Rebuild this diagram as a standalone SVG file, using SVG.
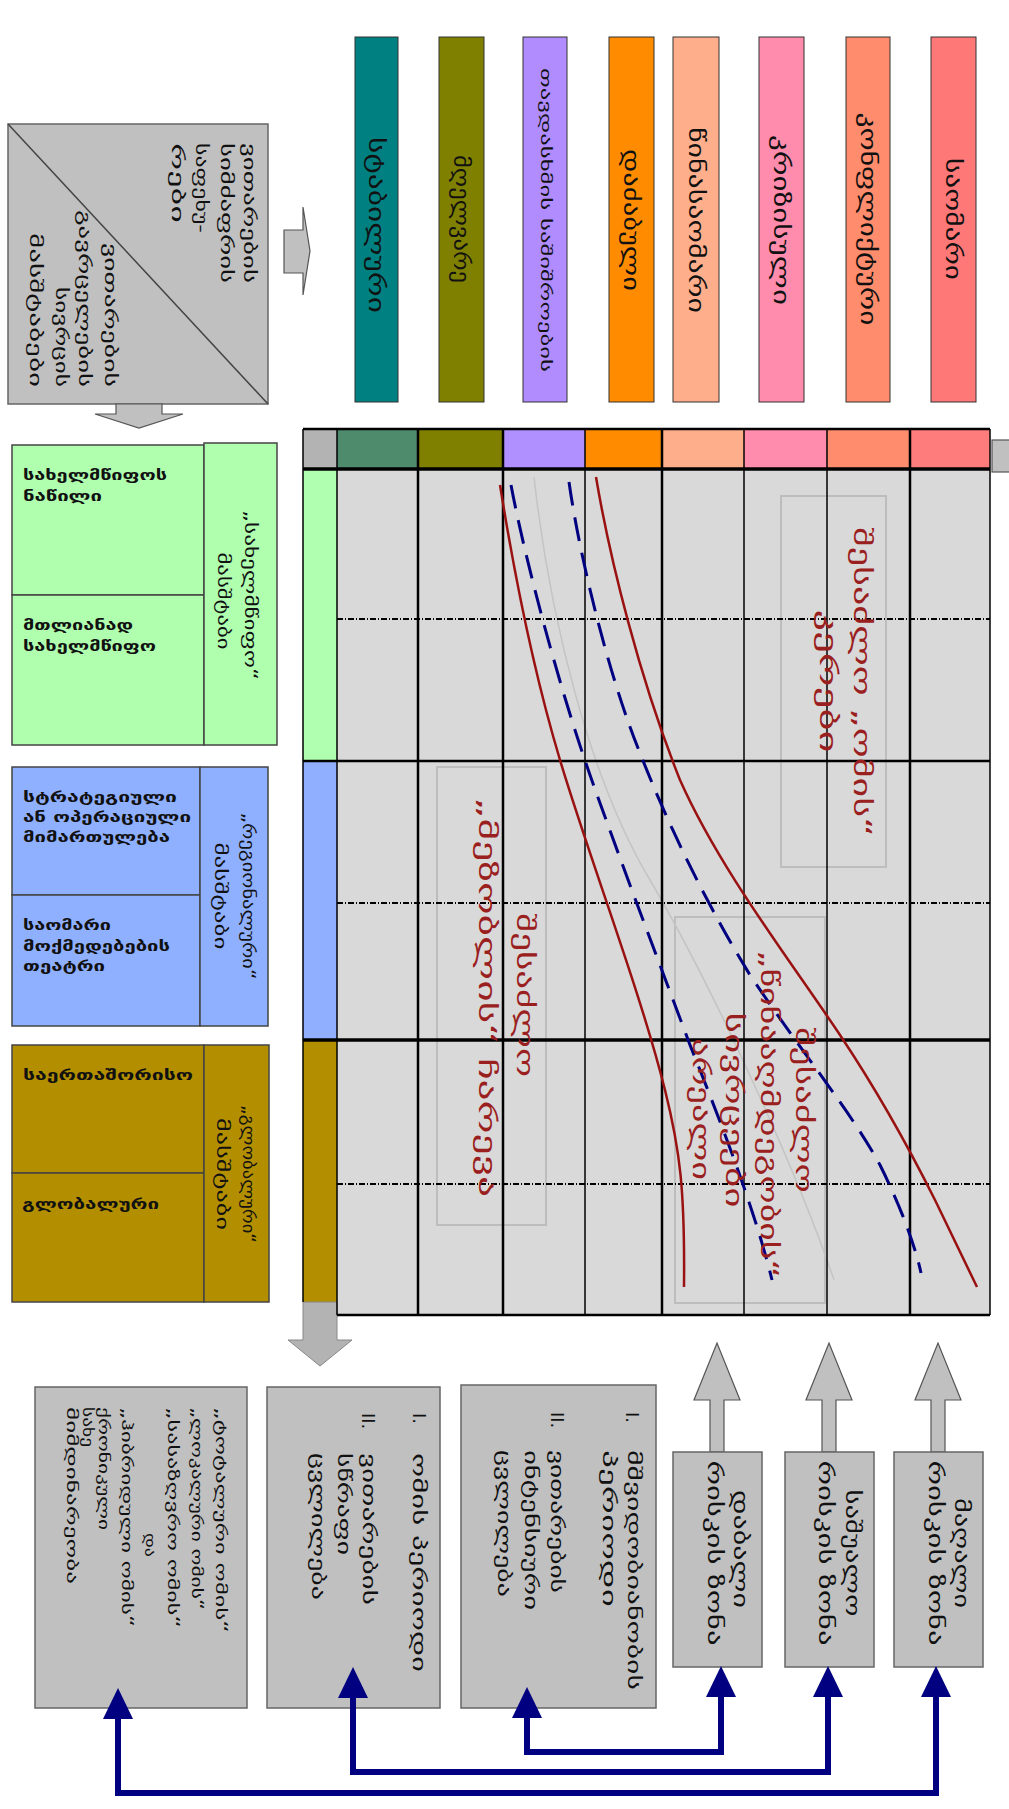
<svg xmlns="http://www.w3.org/2000/svg" width="1009" height="1809" viewBox="0 0 1009 1809">
<defs>
<style>
.t{font-family:"DejaVu Sans","Noto Sans",sans-serif;fill:#111}
.b{font-weight:bold}
.box{fill:#c0c0c0;stroke:#666;stroke-width:1.5}
.gar{fill:#c0c0c0;stroke:#555;stroke-width:1.2}
.cell{stroke:#444;stroke-width:1.5}
.red{fill:none;stroke:#991111;stroke-width:2.5}
.navy{fill:none;stroke:#000080;stroke-width:3;stroke-dasharray:24 12}
.rt{font-family:"DejaVu Sans","Noto Sans",sans-serif;fill:#9a2020}
.ibox{fill:none;stroke:#bdbdbd;stroke-width:2}
.vl{stroke:#000;stroke-width:2.5}
.vt{stroke:#000;stroke-width:1.5}
.dd{stroke:#000;stroke-width:2;stroke-dasharray:6 2 1 2}
.con{fill:none;stroke:#000080;stroke-width:6}
</style>
<marker id="ah" markerUnits="userSpaceOnUse" markerWidth="34" markerHeight="34" viewBox="0 -17 34 34" refX="0" refY="0" orient="auto-start-reverse"><path d="M0,-15 L31,0 L0,15 z" fill="#000080"/></marker>
</defs>
<rect width="1009" height="1809" fill="#fff"/>

<g id="axes-box">
<rect x="8" y="124" width="260" height="280" class="box"/>
<line x1="8" y1="124" x2="268" y2="404" stroke="#444" stroke-width="1.5"/>
<g class="t" font-size="16">
<text transform="translate(249,143) rotate(90)" dy=".3em" textLength="140" lengthAdjust="spacingAndGlyphs">ვითარების</text>
<text transform="translate(226,143) rotate(90)" dy=".3em" textLength="140" lengthAdjust="spacingAndGlyphs">სიმძაფრის</text>
<text transform="translate(201,143) rotate(90)" dy=".3em" textLength="90" lengthAdjust="spacingAndGlyphs">საფეხუ-</text>
<text transform="translate(177,143) rotate(90)" dy=".3em" textLength="80" lengthAdjust="spacingAndGlyphs">რები</text>
<text transform="translate(110,387) rotate(90)" dy=".3em" text-anchor="end" textLength="144" lengthAdjust="spacingAndGlyphs">ვითარების</text>
<text transform="translate(84,387) rotate(90)" dy=".3em" text-anchor="end" textLength="177" lengthAdjust="spacingAndGlyphs">გავრცელების</text>
<text transform="translate(61,387) rotate(90)" dy=".3em" text-anchor="end" textLength="100" lengthAdjust="spacingAndGlyphs">სივრცის</text>
<text transform="translate(35,387) rotate(90)" dy=".3em" text-anchor="end" textLength="154" lengthAdjust="spacingAndGlyphs">მასშტაბები</text>
</g>
<path d="M284,230 H303 V207 L310,251 L303,295 V273 H284 Z" class="gar"/>
<path d="M116,404 H162 V414 H183 L139,428 L95,414 H116 Z" class="gar"/>
</g>

<g id="intensity-bars" class="t" font-size="22">
<rect x="355" y="37" width="43" height="365" fill="#008080" stroke="#333"/>
<rect x="439" y="37" width="45" height="365" fill="#808000" stroke="#333"/>
<rect x="523" y="37" width="44" height="365" fill="#b08cff" stroke="#333"/>
<rect x="609" y="37" width="45" height="365" fill="#ff8c00" stroke="#333"/>
<rect x="673" y="37" width="46" height="365" fill="#ffae8c" stroke="#333"/>
<rect x="759" y="37" width="45" height="365" fill="#ff8cac" stroke="#333"/>
<rect x="846" y="37" width="44" height="365" fill="#ff8c6c" stroke="#333"/>
<rect x="931" y="37" width="45" height="365" fill="#ff7878" stroke="#333"/>
<text transform="translate(376,225) rotate(90)" dy=".3em" text-anchor="middle" textLength="176" lengthAdjust="spacingAndGlyphs">სტაბილური</text>
<text transform="translate(461,219) rotate(90)" dy=".3em" text-anchor="middle" textLength="128" lengthAdjust="spacingAndGlyphs">მღელვარე</text>
<text transform="translate(545,220) rotate(90)" dy=".3em" text-anchor="middle" font-size="15" textLength="304" lengthAdjust="spacingAndGlyphs">თავდასხმის საშიშროების</text>
<text transform="translate(631,220) rotate(90)" dy=".3em" text-anchor="middle" textLength="142" lengthAdjust="spacingAndGlyphs">დაძაბული</text>
<text transform="translate(696,220) rotate(90)" dy=".3em" text-anchor="middle" textLength="186" lengthAdjust="spacingAndGlyphs">წინასაომარი</text>
<text transform="translate(781,220) rotate(90)" dy=".3em" text-anchor="middle" textLength="170" lengthAdjust="spacingAndGlyphs">კრიზისული</text>
<text transform="translate(868,219) rotate(90)" dy=".3em" text-anchor="middle" textLength="213" lengthAdjust="spacingAndGlyphs">კონფლიქტური</text>
<text transform="translate(953,219) rotate(90)" dy=".3em" text-anchor="middle" textLength="122" lengthAdjust="spacingAndGlyphs">საომარი</text>
</g>

<g id="scale-state" class="t">
<rect x="12" y="445" width="192" height="150" fill="#afffaf" class="cell"/>
<rect x="12" y="595" width="192" height="150" fill="#afffaf" class="cell"/>
<rect x="204" y="443" width="73" height="302" fill="#afffaf" class="cell"/>
<g class="b" font-size="14">
<text x="23" y="480" textLength="144" lengthAdjust="spacingAndGlyphs">სახელმწიფოს</text>
<text x="23" y="501" textLength="79" lengthAdjust="spacingAndGlyphs">ნაწილი</text>
<text x="23" y="630" textLength="110" lengthAdjust="spacingAndGlyphs">მთლიანად</text>
<text x="23" y="651" textLength="133" lengthAdjust="spacingAndGlyphs">სახელმწიფო</text>
</g>
<g font-size="17">
<text transform="translate(250,595) rotate(90)" dy=".3em" text-anchor="middle" textLength="170" lengthAdjust="spacingAndGlyphs">„სახელმწიფო“</text>
<text transform="translate(223,601) rotate(90)" dy=".3em" text-anchor="middle" textLength="97" lengthAdjust="spacingAndGlyphs">მასშტაბი</text>
</g>
</g>

<g id="scale-theatre" class="t">
<rect x="12" y="767" width="188" height="128" fill="#8fafff" class="cell"/>
<rect x="12" y="895" width="188" height="131" fill="#8fafff" class="cell"/>
<rect x="200" y="767" width="68" height="259" fill="#8fafff" class="cell"/>
<g class="b" font-size="14">
<text x="23" y="802" textLength="154" lengthAdjust="spacingAndGlyphs">სტრატეგიული</text>
<text x="23" y="822" textLength="168" lengthAdjust="spacingAndGlyphs">ან ოპერაციული</text>
<text x="23" y="842" textLength="147" lengthAdjust="spacingAndGlyphs">მიმართულება</text>
<text x="23" y="930" textLength="88" lengthAdjust="spacingAndGlyphs">საომარი</text>
<text x="23" y="951" textLength="147" lengthAdjust="spacingAndGlyphs">მოქმედებების</text>
<text x="23" y="971" textLength="82" lengthAdjust="spacingAndGlyphs">თეატრი</text>
</g>
<g font-size="17">
<text transform="translate(248,896) rotate(90)" dy=".3em" text-anchor="middle" textLength="167" lengthAdjust="spacingAndGlyphs">„რეგიონალური“</text>
<text transform="translate(220,896) rotate(90)" dy=".3em" text-anchor="middle" textLength="107" lengthAdjust="spacingAndGlyphs">მასშტაბი</text>
</g>
</g>

<g id="scale-global" class="t">
<rect x="12" y="1045" width="192" height="128" fill="#b38f00" class="cell"/>
<rect x="12" y="1173" width="192" height="129" fill="#b38f00" class="cell"/>
<rect x="204" y="1045" width="65" height="257" fill="#b38f00" class="cell"/>
<g class="b" font-size="14">
<text x="23" y="1080" textLength="170" lengthAdjust="spacingAndGlyphs">საერთაშორისო</text>
<text x="22" y="1209" textLength="137" lengthAdjust="spacingAndGlyphs">გლობალური</text>
</g>
<g font-size="17">
<text transform="translate(248,1174) rotate(90)" dy=".3em" text-anchor="middle" textLength="138" lengthAdjust="spacingAndGlyphs">„გლობალური“</text>
<text transform="translate(222,1174) rotate(90)" dy=".3em" text-anchor="middle" textLength="112" lengthAdjust="spacingAndGlyphs">მასშტაბი</text>
</g>
</g>

<g id="matrix">
<rect x="337" y="469" width="653" height="846" fill="#d9d9d9"/>
<rect x="303" y="429" width="34" height="40" fill="#b3b3b3"/>
<rect x="337" y="429" width="81" height="40" fill="#4e8a6c"/>
<rect x="418" y="429" width="85" height="40" fill="#808000"/>
<rect x="503" y="429" width="82" height="40" fill="#b090ff"/>
<rect x="585" y="429" width="77" height="40" fill="#ff8c00"/>
<rect x="662" y="429" width="82" height="40" fill="#ffae8c"/>
<rect x="744" y="429" width="83" height="40" fill="#ff8cac"/>
<rect x="827" y="429" width="83" height="40" fill="#ff8c6c"/>
<rect x="910" y="429" width="80" height="40" fill="#ff7c7c"/>
<rect x="303" y="469" width="34" height="292" fill="#b0ffb0"/>
<rect x="303" y="761" width="34" height="279" fill="#90b0ff"/>
<rect x="303" y="1040" width="34" height="262" fill="#b38f00"/>
<path d="M303,1302 H337 V1340 H352 L320,1366 L288,1340 H303 Z" fill="#b3b3b3" stroke="#888" stroke-width="1"/>
<rect x="992" y="440" width="20" height="32" class="gar"/>
<rect x="781" y="496" width="105" height="371" class="ibox"/>
<rect x="437" y="767" width="109" height="458" class="ibox"/>
<rect x="675" y="917" width="150" height="386" class="ibox"/>
<path d="M534,477 C550,620 590,780 650,880 C720,1000 800,1180 834,1280" fill="none" stroke="#c4c4c4" stroke-width="1.5"/>
<line x1="337" y1="619" x2="990" y2="619" class="dd"/>
<line x1="337" y1="903" x2="990" y2="903" class="dd"/>
<line x1="337" y1="1184" x2="990" y2="1184" class="dd"/>
<line x1="303" y1="761" x2="990" y2="761" class="vl"/>
<line x1="303" y1="1040" x2="990" y2="1040" stroke="#000" stroke-width="3.5"/>
<line x1="303" y1="469" x2="990" y2="469" stroke="#000" stroke-width="3.5"/>
<line x1="337" y1="1315" x2="990" y2="1315" class="vl"/>
<line x1="303" y1="429" x2="990" y2="429" class="vl"/>
<line x1="303" y1="429" x2="303" y2="1302" class="vt"/>
<line x1="337" y1="429" x2="337" y2="1315" class="vt"/>
<line x1="418" y1="429" x2="418" y2="1315" class="vl"/>
<line x1="503" y1="429" x2="503" y2="1315" class="vl"/>
<line x1="585" y1="429" x2="585" y2="1315" class="vt"/>
<line x1="662" y1="429" x2="662" y2="1315" class="vl"/>
<line x1="744" y1="429" x2="744" y2="1315" class="vt"/>
<line x1="827" y1="429" x2="827" y2="1315" class="vt"/>
<line x1="910" y1="429" x2="910" y2="1315" class="vl"/>
<line x1="990" y1="429" x2="990" y2="1315" class="vt"/>
<path d="M500,485 C512,560 530,660 560,760 C590,860 640,990 665,1090 C680,1150 685,1190 684,1287" class="red"/>
<path d="M596,477 C610,560 640,680 680,780 C720,870 790,960 840,1035 C880,1095 915,1160 935,1200 L977,1287" class="red"/>
<path d="M511,485 C525,560 560,690 590,775 C620,860 660,965 690,1045 C720,1120 755,1210 772,1280" class="navy"/>
<path d="M569,482 C580,560 610,680 640,753 C670,830 710,910 750,975 C800,1050 850,1110 880,1165 C900,1205 915,1245 921,1273" class="navy"/>
<g class="rt" font-size="24">
<text transform="translate(861,682) rotate(90)" dy=".3em" text-anchor="middle" textLength="310" lengthAdjust="spacingAndGlyphs">შესაძლო „ომის“</text>
<text transform="translate(827,681) rotate(90)" dy=".3em" text-anchor="middle" textLength="143" lengthAdjust="spacingAndGlyphs">კერები</text>
<text transform="translate(524,995) rotate(90)" dy=".3em" text-anchor="middle" textLength="164" lengthAdjust="spacingAndGlyphs">შესაძლო</text>
<text transform="translate(486,997) rotate(90)" dy=".3em" text-anchor="middle" textLength="400" lengthAdjust="spacingAndGlyphs">„მეზობლის“ ჩარევა</text>
<text transform="translate(803,1110) rotate(90)" dy=".3em" text-anchor="middle" textLength="166" lengthAdjust="spacingAndGlyphs">შესაძლო</text>
<text transform="translate(768,1114) rotate(90)" dy=".3em" text-anchor="middle" textLength="328" lengthAdjust="spacingAndGlyphs">„წინააღმდეგობის“</text>
<text transform="translate(733,1110) rotate(90)" dy=".3em" text-anchor="middle" textLength="195" lengthAdjust="spacingAndGlyphs">სივრცეები</text>
<text transform="translate(700,1109) rotate(90)" dy=".3em" text-anchor="middle" textLength="142" lengthAdjust="spacingAndGlyphs">არეალი</text>
</g>
</g>

<g id="risk-low" class="t" font-size="20">
<path d="M710,1452 V1400 H694 L717,1343 L740,1400 H724 V1452 Z" class="gar"/>
<rect x="673" y="1452" width="89" height="215" class="box"/>
<text transform="translate(740,1549) rotate(90)" dy=".3em" text-anchor="middle" textLength="118" lengthAdjust="spacingAndGlyphs">დაბალი</text>
<text transform="translate(714,1553) rotate(90)" dy=".3em" text-anchor="middle" textLength="185" lengthAdjust="spacingAndGlyphs">რისკის ზონა</text>
</g>
<g id="risk-medium" class="t" font-size="20">
<path d="M822,1452 V1400 H806 L829,1343 L852,1400 H836 V1452 Z" class="gar"/>
<rect x="785" y="1452" width="89" height="215" class="box"/>
<text transform="translate(852,1553) rotate(90)" dy=".3em" text-anchor="middle" textLength="127" lengthAdjust="spacingAndGlyphs">საშუალო</text>
<text transform="translate(825,1553) rotate(90)" dy=".3em" text-anchor="middle" textLength="185" lengthAdjust="spacingAndGlyphs">რისკის ზონა</text>
</g>
<g id="risk-high" class="t" font-size="20">
<path d="M931,1452 V1400 H915 L938,1343 L961,1400 H945 V1452 Z" class="gar"/>
<rect x="894" y="1452" width="89" height="215" class="box"/>
<text transform="translate(961,1553) rotate(90)" dy=".3em" text-anchor="middle" textLength="110" lengthAdjust="spacingAndGlyphs">მაღალი</text>
<text transform="translate(935,1553) rotate(90)" dy=".3em" text-anchor="middle" textLength="185" lengthAdjust="spacingAndGlyphs">რისკის ზონა</text>
</g>

<g id="outcome-1" class="t" font-size="18">
<rect x="461" y="1385" width="195" height="323" class="box"/>
<text transform="translate(631,1412) rotate(90)" dy=".3em">I.</text>
<text transform="translate(633,1450) rotate(90)" dy=".3em" textLength="240" lengthAdjust="spacingAndGlyphs">მშვიდობიანობის</text>
<text transform="translate(608,1450) rotate(90)" dy=".3em" textLength="157" lengthAdjust="spacingAndGlyphs">პერიოდი</text>
<text transform="translate(556,1412) rotate(90)" dy=".3em">II.</text>
<text transform="translate(556,1450) rotate(90)" dy=".3em" textLength="143" lengthAdjust="spacingAndGlyphs">ვითარების</text>
<text transform="translate(530,1450) rotate(90)" dy=".3em" textLength="160" lengthAdjust="spacingAndGlyphs">ინტენსიური</text>
<text transform="translate(503,1450) rotate(90)" dy=".3em" textLength="147" lengthAdjust="spacingAndGlyphs">ცვლილება</text>
</g>
<g id="outcome-2" class="t" font-size="18">
<rect x="267" y="1387" width="173" height="321" class="box"/>
<text transform="translate(418,1413) rotate(90)" dy=".3em">I.</text>
<text transform="translate(418,1453) rotate(90)" dy=".3em" textLength="219" lengthAdjust="spacingAndGlyphs">ომის პერიოდი</text>
<text transform="translate(367,1413) rotate(90)" dy=".3em">II.</text>
<text transform="translate(368,1453) rotate(90)" dy=".3em" textLength="152" lengthAdjust="spacingAndGlyphs">ვითარების</text>
<text transform="translate(343,1453) rotate(90)" dy=".3em" textLength="102" lengthAdjust="spacingAndGlyphs">სწრაფი</text>
<text transform="translate(317,1453) rotate(90)" dy=".3em" textLength="147" lengthAdjust="spacingAndGlyphs">ცვლილება</text>
</g>
<g id="outcome-3" class="t" font-size="15">
<rect x="35" y="1387" width="212" height="321" class="box"/>
<text transform="translate(220,1407) rotate(90)" dy=".3em" textLength="226" lengthAdjust="spacingAndGlyphs">„ტოტალური ომის“</text>
<text transform="translate(196,1407) rotate(90)" dy=".3em" textLength="203" lengthAdjust="spacingAndGlyphs">„ლოკალური ომის“</text>
<text transform="translate(172,1407) rotate(90)" dy=".3em" textLength="221" lengthAdjust="spacingAndGlyphs">„სასაზღვრო ომის“</text>
<text transform="translate(149,1533) rotate(90)" dy=".3em" textLength="24" lengthAdjust="spacingAndGlyphs">და</text>
<text transform="translate(126,1407) rotate(90)" dy=".3em" textLength="220" lengthAdjust="spacingAndGlyphs">„ჰიბრიდული ომის“</text>
<text transform="translate(103,1407) rotate(90)" dy=".3em" textLength="123" lengthAdjust="spacingAndGlyphs">ქრონიკული</text>
<text transform="translate(87,1407) rotate(90)" dy=".3em" textLength="40" lengthAdjust="spacingAndGlyphs">სახე</text>
<text transform="translate(71,1407) rotate(90)" dy=".3em" textLength="177" lengthAdjust="spacingAndGlyphs">მიმდინარეობა</text>
</g>

<g id="connectors">
<path d="M527,1718 V1752 H721 V1697" class="con" marker-start="url(#ah)" marker-end="url(#ah)"/>
<path d="M353,1698 V1772 H828 V1697" class="con" marker-start="url(#ah)" marker-end="url(#ah)"/>
<path d="M118,1719 V1793 H936 V1697" class="con" marker-start="url(#ah)" marker-end="url(#ah)"/>
</g>
</svg>
